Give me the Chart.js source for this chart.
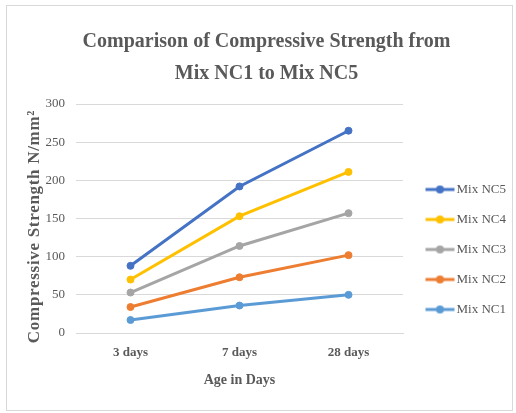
<!DOCTYPE html>
<html>
<head>
<meta charset="utf-8">
<title>Compressive Strength</title>
<script src="https://cdn.jsdelivr.net/npm/chart.js@4.4.1/dist/chart.umd.min.js"></script>
<style>
    html, body { margin: 0; padding: 0; background: #fff; }
    .frame {
        position: absolute;
        left: 6px;
        top: 5px;
        width: 505px;
        height: 404px;
        border: 1px solid #d9d9d9;
    }
    .frame canvas { display: block; }
</style>
</head>
<body>
<div class="frame">
    <canvas id="strengthChart" width="505" height="404"></canvas>
</div>
<script>
// Chart data
const ages = ['3 days', '7 days', '28 days'];
const mixNames = ['Mix NC1', 'Mix NC2', 'Mix NC3', 'Mix NC4', 'Mix NC5'];
const nc1 = [17, 36, 50];
const nc2 = [34, 73, 102];
const nc3 = [53, 114, 157];
const nc4 = [70, 153, 211];
const nc5 = [88, 192, 265];
const yTicks = [0, 50, 100, 150, 200, 250, 300];

const mixValues = [nc1, nc2, nc3, nc4, nc5];
const mixColors = ['#5b9bd5', '#ed7d31', '#a5a5a5', '#ffc000', '#4472c4'];

const textGray = '#595959';
const gridGray = '#d9d9d9';
const serif = "'Liberation Serif', 'Times New Roman', serif";

// Legend marker: short line with a dot, shifted right inside a wider box
function legendMarker(color) {
    const c = document.createElement('canvas');
    c.width = 41;
    c.height = 10;
    const g = c.getContext('2d');
    g.strokeStyle = color;
    g.lineWidth = 3;
    g.beginPath();
    g.moveTo(11, 5);
    g.lineTo(40, 5);
    g.stroke();
    g.fillStyle = color;
    g.beginPath();
    g.arc(25.5, 5, 4, 0, Math.PI * 2);
    g.fill();
    return c;
}

const datasets = mixNames.map((name, i) => ({
    label: name,
    data: mixValues[i],
    borderColor: mixColors[i],
    backgroundColor: mixColors[i],
    borderWidth: 3,
    pointRadius: 3.5,
    pointBorderWidth: 1,
    pointHoverRadius: 4,
    pointStyle: 'circle',
    pointBackgroundColor: mixColors[i],
    pointBorderColor: mixColors[i],
    tension: 0
}));

const ctx = document.getElementById('strengthChart').getContext('2d');

const chart = new Chart(ctx, {
    type: 'line',
    data: {
        labels: ages,
        datasets: datasets
    },
    options: {
        responsive: false,
        animation: false,
        layout: {
            padding: { left: 14, right: 0, top: 0, bottom: 21.6 }
        },
        plugins: {
            title: {
                display: true,
                text: ['Comparison of Compressive Strength from', 'Mix NC1 to Mix NC5'],
                color: textGray,
                font: { family: serif, size: 20, weight: 'bold', lineHeight: 1.6 },
                padding: { top: 20, bottom: 14 }
            },
            legend: {
                position: 'right',
                align: 'end',
                reverse: true,
                fullSize: false,
                maxWidth: 109,
                labels: {
                    color: textGray,
                    font: { family: serif, size: 13 },
                    usePointStyle: true,
                    pointStyleWidth: 30,
                    padding: 17,
                    generateLabels: (ch) => ch.data.datasets.map((ds, i) => ({
                        text: ds.label,
                        fillStyle: ds.borderColor,
                        strokeStyle: ds.borderColor,
                        fontColor: textGray,
                        lineWidth: 0,
                        pointStyle: legendMarker(ds.borderColor),
                        hidden: !ch.isDatasetVisible(i),
                        datasetIndex: i
                    }))
                }
            },
            tooltip: { enabled: false }
        },
        scales: {
            x: {
                offset: true,
                afterFit: (axis) => { axis.height = 55.4; },
                grid: { display: false, drawTicks: false },
                border: { display: true, color: gridGray, width: 1 },
                ticks: {
                    color: textGray,
                    padding: 12,
                    font: { family: serif, size: 13, weight: 'bold' }
                },
                title: {
                    display: true,
                    text: 'Age in Days',
                    color: textGray,
                    font: { family: serif, size: 14, weight: 'bold' },
                    padding: { top: 0, bottom: 0 }
                }
            },
            y: {
                min: 0,
                max: 300,
                afterBuildTicks: (axis) => {
                    axis.ticks = yTicks.map(v => ({ value: v }));
                },
                afterFit: (axis) => {
                    axis.width = 55;
                    // spaced-out axis title, sitting a little lower, as in the original
                    if (!axis._spacedTitle) {
                        const drawTitle = axis.drawTitle;
                        axis.drawTitle = function () {
                            this.ctx.save();
                            this.ctx.translate(0, 8);
                            this.ctx.letterSpacing = '0.7px';
                            drawTitle.call(this);
                            this.ctx.restore();
                        };
                        axis._spacedTitle = true;
                    }
                },
                grid: { color: gridGray, lineWidth: 1, drawTicks: false },
                border: { display: false },
                ticks: {
                    color: textGray,
                    padding: 11,
                    font: { family: serif, size: 13 }
                },
                title: {
                    display: true,
                    text: 'Compressive Strength N/mm²',
                    color: textGray,
                    font: { family: serif, size: 17, weight: 'bold' },
                    padding: { top: 3, bottom: 2 }
                }
            }
        }
    }
});
</script>
</body>
</html>
